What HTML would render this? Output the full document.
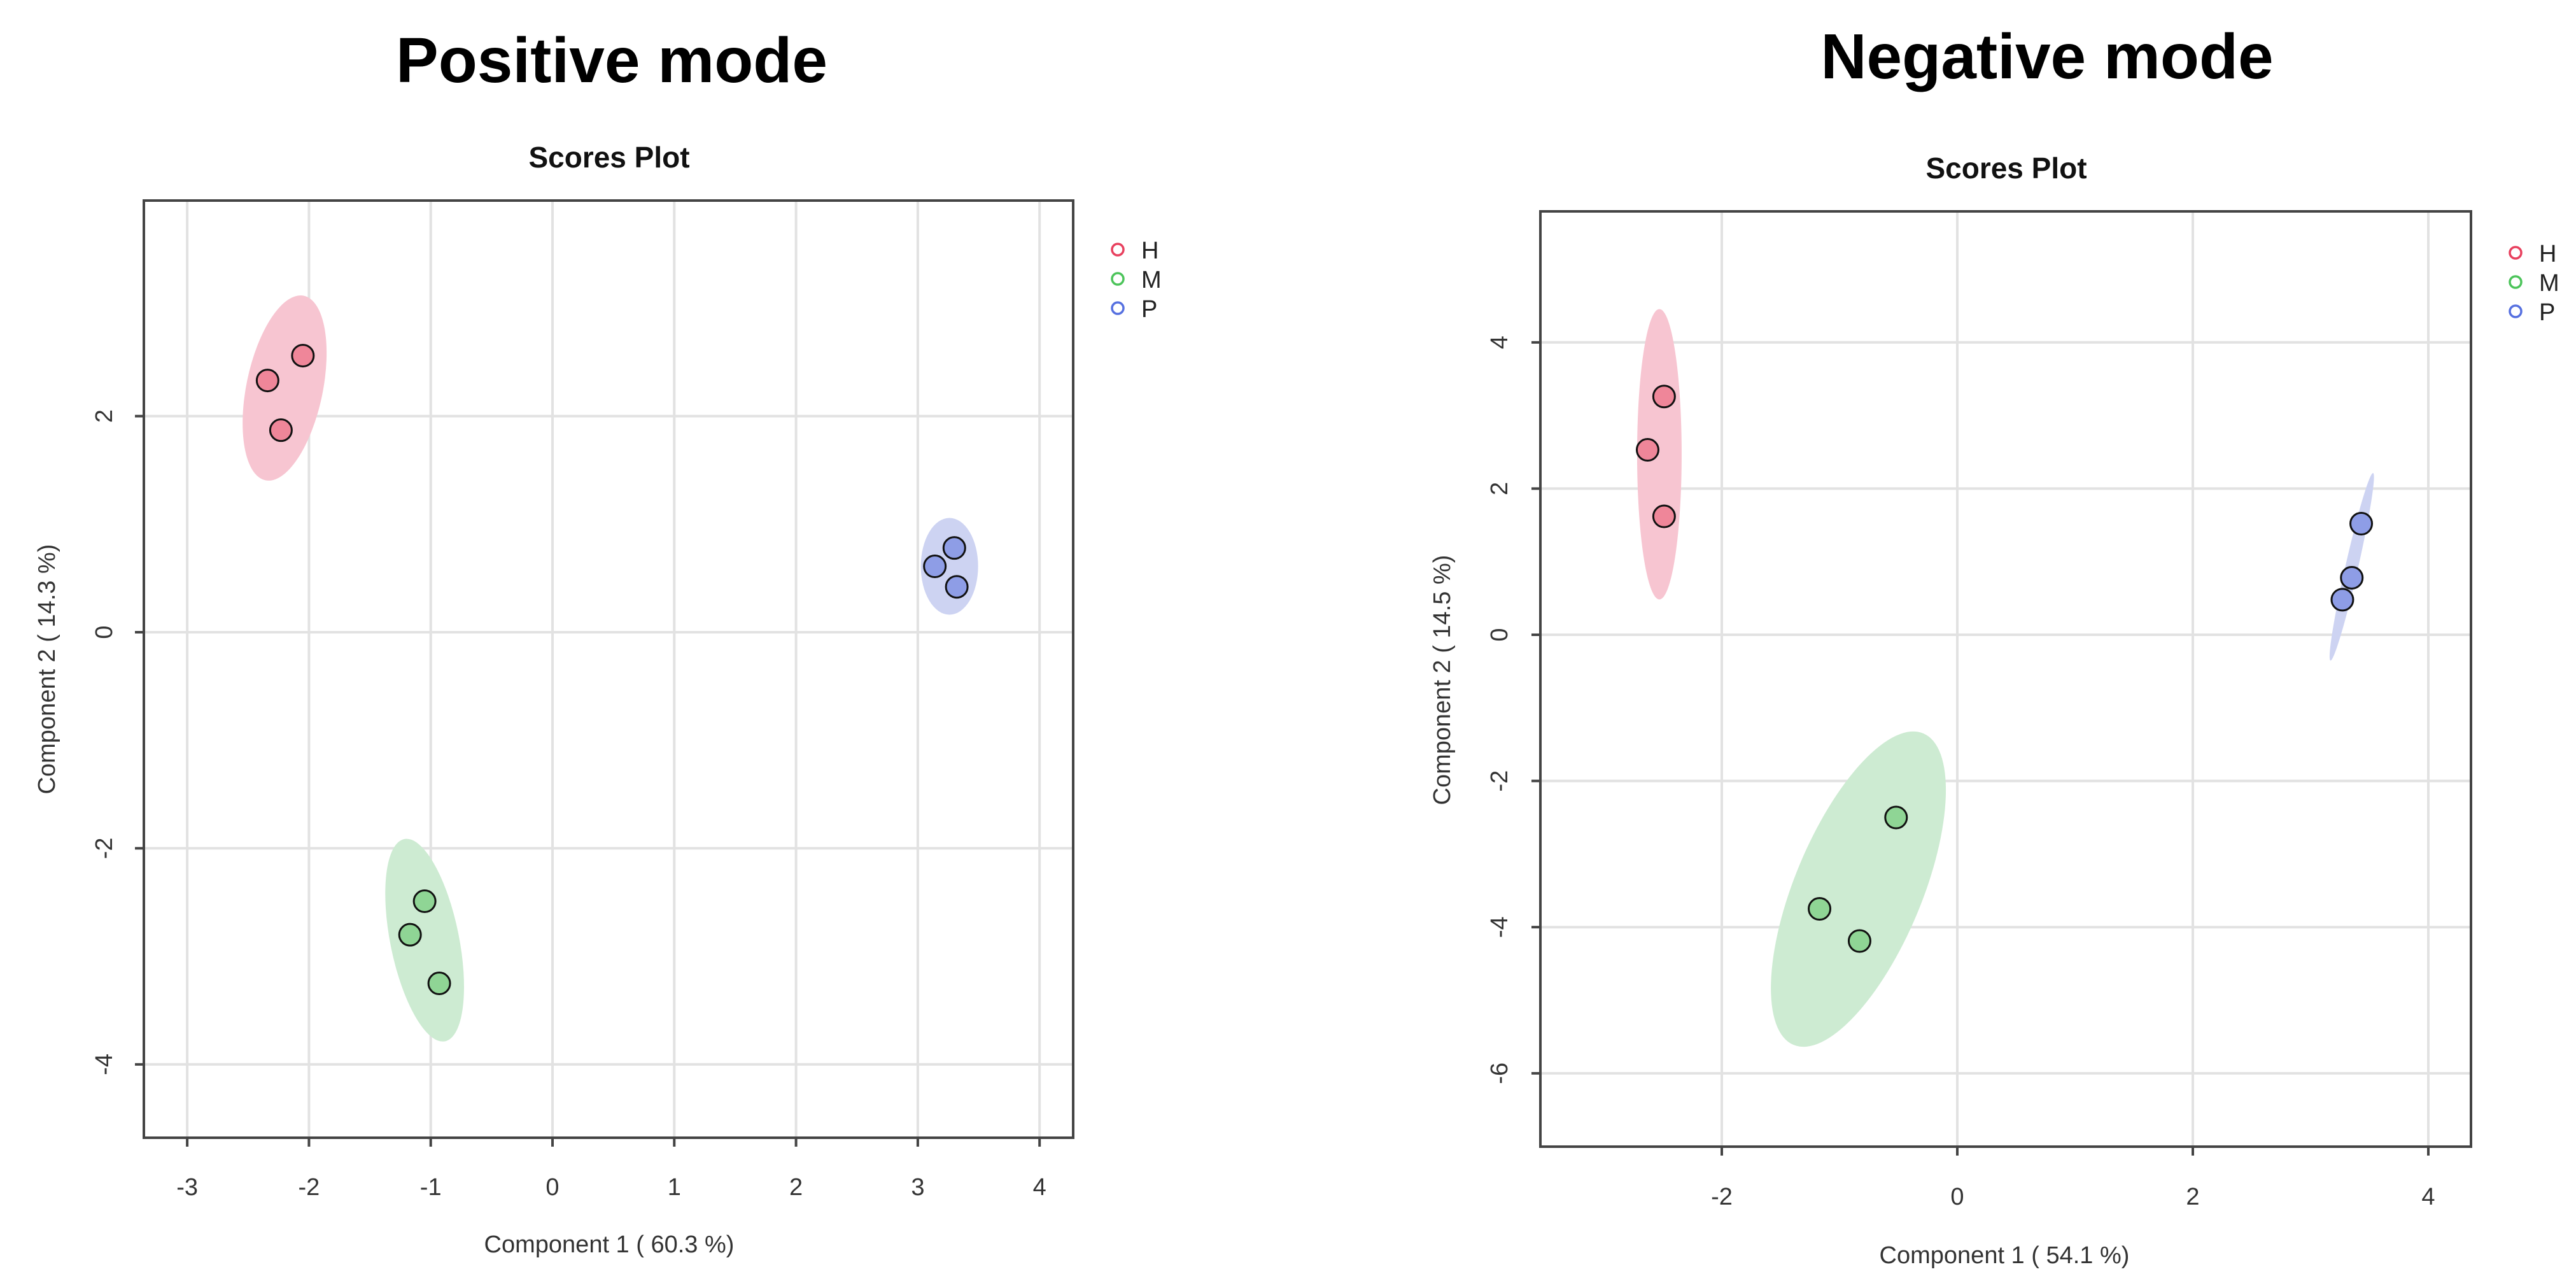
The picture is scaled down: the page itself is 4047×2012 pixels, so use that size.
<!DOCTYPE html>
<html><head><meta charset="utf-8">
<style>
html,body{margin:0;padding:0;background:#fff;}
svg{display:block;font-family:"Liberation Sans",sans-serif;}
</style></head>
<body>
<svg id="fig" width="4047" height="2012" viewBox="0 0 4047 2012" xmlns="http://www.w3.org/2000/svg">
<text x="961" y="129" font-size="100" font-weight="bold" text-anchor="middle">Positive mode</text>
<text x="3216" y="123" font-size="100" font-weight="bold" text-anchor="middle">Negative mode</text>
<g id="p1"></g>
<g id="p2"></g>
</svg>
<script>
// ---- Positive mode data ----
const posXTicks = [-3,-2,-1,0,1,2,3,4];
const posYTicks = [-4,-2,0,2];
const posH_x = [-2.05,-2.34,-2.23];
const posH_y = [2.56,2.33,1.87];
const posM_x = [-1.05,-1.17,-0.93];
const posM_y = [-2.49,-2.8,-3.25];
const posP_x = [3.30,3.14,3.32];
const posP_y = [0.78,0.61,0.42];
const posEllipseCx = [-2.2,-1.05,3.26];
const posEllipseCy = [2.26,-2.85,0.61];
// ---- Negative mode data ----
const negXTicks = [-2,0,2,4];
const negYTicks = [-6,-4,-2,0,2,4];
const negH_x = [-2.49,-2.63,-2.49];
const negH_y = [3.26,2.53,1.62];
const negM_x = [-0.52,-1.17,-0.83];
const negM_y = [-2.5,-3.75,-4.19];
const negP_x = [3.43,3.35,3.27];
const negP_y = [1.52,0.78,0.48];
const negEllipseCx = [-2.53,-0.84,3.35];
const negEllipseCy = [2.47,-3.48,0.93];
const groups = ['H','M','P'];

const NS='http://www.w3.org/2000/svg';
function mk(parent,tag,attrs,text){const e=document.createElementNS(NS,tag);for(const k in attrs)e.setAttribute(k,attrs[k]);if(text!==undefined)e.textContent=text;parent.appendChild(e);return e;}
const fillCol=['#ef8699','#8fd595','#8e9de6'];
const ellCol=['#f7c5d1','#cdebd2','#cdd3f2'];
const legCol=['#e8405e','#4cc45a','#5670e0'];

function drawPlot(g,cfg){
  const sx=v=>cfg.x0+v*cfg.ux, sy=v=>cfg.y0-v*cfg.uy;
  // grid
  cfg.xt.forEach(t=>{const l=mk(g,'line',{x1:sx(t),x2:sx(t),y1:cfg.top,y2:cfg.bottom,stroke:'#e2e2e2','stroke-width':4});
    
    });
  cfg.yt.forEach(t=>{const l=mk(g,'line',{x1:cfg.left,x2:cfg.right,y1:sy(t),y2:sy(t),stroke:'#e2e2e2','stroke-width':4});
    
    });
  // ellipses
  for(let i=0;i<3;i++){const e=mk(g,'ellipse',{cx:sx(cfg.ecx[i]),cy:sy(cfg.ecy[i]),rx:cfg.erx[i],ry:cfg.ery[i],fill:ellCol[i],
      transform:`rotate(${cfg.erot[i]} ${sx(cfg.ecx[i])} ${sy(cfg.ecy[i])})`});
    
    }
  // points
  cfg.pts.forEach((p,i)=>{p[0].forEach((xv,j)=>{const c=mk(g,'circle',{cx:sx(xv),cy:sy(p[1][j]),r:17,fill:fillCol[i],stroke:'#111','stroke-width':3});
    
    });});
  // box
  const b=mk(g,'rect',{x:cfg.left,y:cfg.top,width:cfg.right-cfg.left,height:cfg.bottom-cfg.top,fill:'none',stroke:'#444','stroke-width':4});
  
  
  // ticks
  cfg.xt.forEach(t=>{const l=mk(g,'line',{x1:sx(t),x2:sx(t),y1:cfg.bottom,y2:cfg.bottom+14,stroke:'#444','stroke-width':4});
    
    
    const tx=mk(g,'text',{x:sx(t),y:cfg.xlabY,'font-size':38,'text-anchor':'middle',fill:'#333'},String(t));
    
    });
  cfg.yt.forEach(t=>{const l=mk(g,'line',{x1:cfg.left-14,x2:cfg.left,y1:sy(t),y2:sy(t),stroke:'#444','stroke-width':4});
    
    
    const tx=mk(g,'text',{x:cfg.ylabX,y:sy(t),'font-size':38,'text-anchor':'middle',fill:'#333',transform:`rotate(-90 ${cfg.ylabX} ${sy(t)})`},String(t));
    
    });
  const t1=mk(g,'text',{x:cfg.titleX,y:cfg.titleY,'font-size':46,'font-weight':'bold','text-anchor':'middle',fill:'#111'},'Scores Plot');
  
  
  const xa=mk(g,'text',{x:cfg.xtX,y:cfg.xtY,'font-size':38,'text-anchor':'middle',fill:'#333'},cfg.xTitle);
  
  
  const ya=mk(g,'text',{x:cfg.ytX,y:cfg.ytY,'font-size':38,'text-anchor':'middle',fill:'#333',transform:`rotate(-90 ${cfg.ytX} ${cfg.ytY})`},cfg.yTitle);
  
  
  for(let i=0;i<3;i++){const y=cfg.legY+i*46;
    const c=mk(g,'circle',{cx:cfg.legX,cy:y,r:9,fill:'none',stroke:legCol[i],'stroke-width':3.5});
    
    
    const t=mk(g,'text',{x:cfg.legX+37,y:y+14,'font-size':38,fill:'#222'},groups[i]);
    
    }
}
drawPlot(document.getElementById('p1'),{x0:868,ux:191.3,y0:993,uy:169.7,left:226,right:1686,top:315,bottom:1787,
  xt:posXTicks,yt:posYTicks,ecx:posEllipseCx,ecy:posEllipseCy,erx:[60,54,45],ery:[148,162,76],erot:[11.7,-11.4,0],
  pts:[[posH_x,posH_y],[posM_x,posM_y],[posP_x,posP_y]],xlabY:1877,ylabX:176,titleX:957,titleY:263,
  xtX:957,xtY:1967,xTitle:'Component 1 ( 60.3 %)',ytX:86,ytY:1051,yTitle:'Component 2 ( 14.3 %)',legX:1756,legY:392});
drawPlot(document.getElementById('p2'),{x0:3075,ux:185,y0:997,uy:114.8,left:2420,right:3882,top:332,bottom:1801,
  xt:negXTicks,yt:negYTicks,ecx:negEllipseCx,ecy:negEllipseCy,erx:[35,100,10],ery:[228,265,151],erot:[0,22.6,12.8],
  pts:[[negH_x,negH_y],[negM_x,negM_y],[negP_x,negP_y]],xlabY:1892,ylabX:2368,titleX:3152,titleY:280,
  xtX:3149,xtY:1984,xTitle:'Component 1 ( 54.1 %)',ytX:2278,ytY:1068,yTitle:'Component 2 ( 14.5 %)',legX:3952,legY:397});
</script>
</body></html>
